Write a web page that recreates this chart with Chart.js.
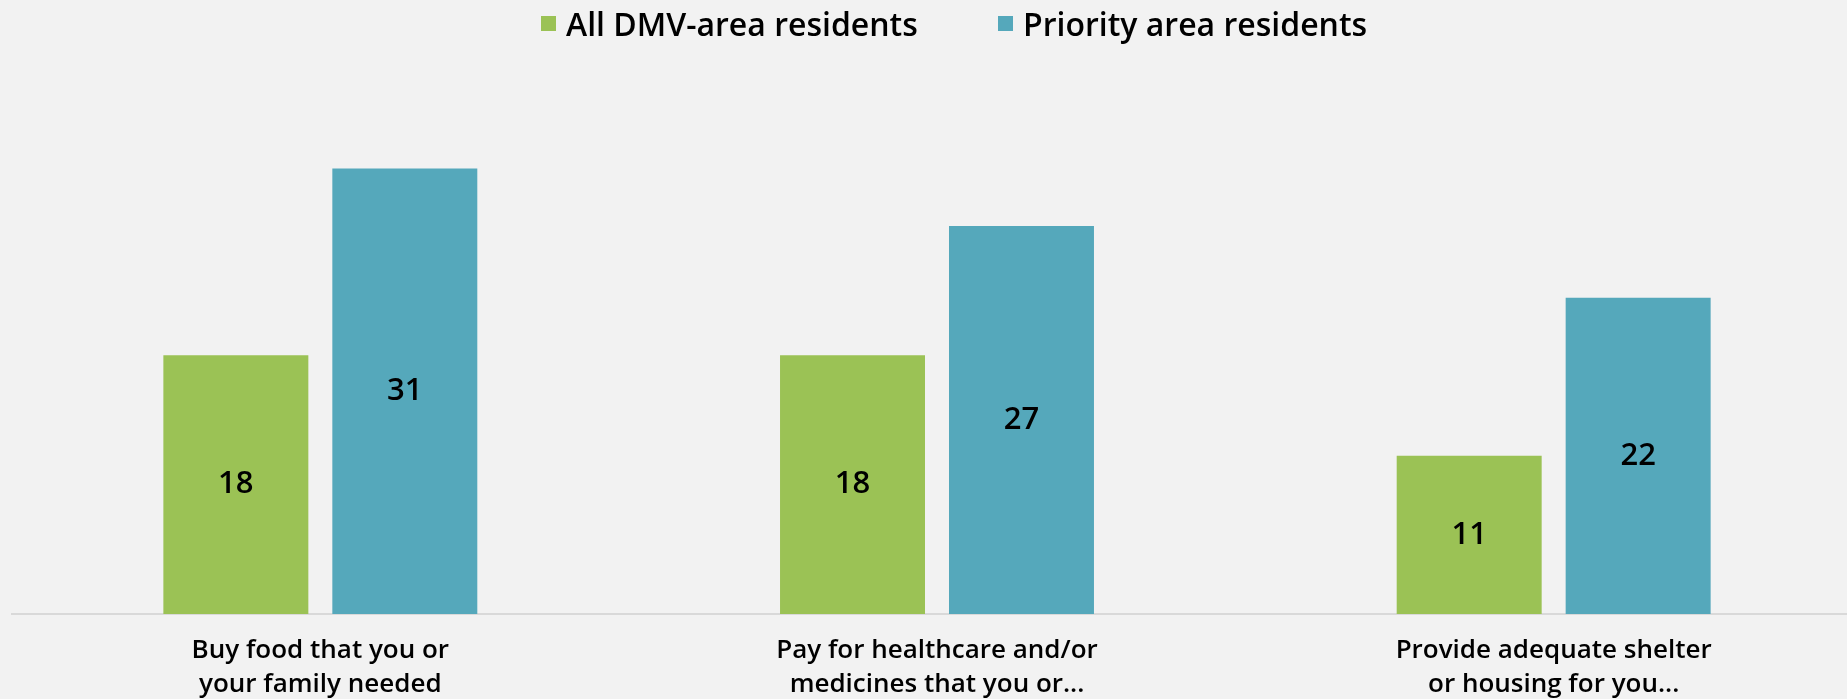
<!DOCTYPE html>
<html>
<head>
<meta charset="utf-8">
<script src="https://cdn.jsdelivr.net/npm/chart.js@4.4.1/dist/chart.umd.min.js"></script>
<style>
  html, body { margin: 0; padding: 0; background: #f2f2f2; overflow: hidden; }
  #wrap { position: relative; width: 1862px; height: 699px; }
  #legend { position: absolute; left: 541px; top: 2px; display: flex; align-items: center;
            font-family: "Open Sans", sans-serif; font-size: 32px; font-weight: 600; color: #000; }
  #legend .item { display: flex; align-items: center; }
  #legend .item:first-child { width: 457px; }
  #legend .box { width: 15px; height: 15px; margin-right: 10px; flex: none; }
</style>
</head>
<body>
<div id="wrap">
  <canvas id="chart"></canvas>
  <div id="legend"></div>
</div>
<script>
// categories and series
const categories = [
  ["Buy food that you or", "your family needed"],
  ["Pay for healthcare and/or", "medicines that you or..."],
  ["Provide adequate shelter", "or housing for you..."]
];
const seriesNames = ["All DMV-area residents", "Priority area residents"];
const allResidents = [18, 18, 11];
const priorityResidents = [31, 27, 22];
const colors = ["#9bc255", "#55a8bb"];

// draw the value in the middle of each bar
const barValues = {
  id: 'barValues',
  afterDatasetsDraw(chart) {
    const ctx = chart.ctx;
    ctx.save();
    ctx.font = '600 31px "Open Sans"';
    ctx.fillStyle = '#000';
    ctx.textAlign = 'center';
    ctx.textBaseline = 'middle';
    chart.data.datasets.forEach((ds, i) => {
      chart.getDatasetMeta(i).data.forEach((bar, j) => {
        ctx.fillText(ds.data[j], bar.x, (bar.y + bar.base) / 2);
      });
    });
    ctx.restore();
  }
};

let chart = new Chart(document.getElementById('chart'), {
  type: 'bar',
  data: {
    labels: categories,
    datasets: [
      { label: seriesNames[0], data: allResidents, backgroundColor: colors[0] },
      { label: seriesNames[1], data: priorityResidents, backgroundColor: colors[1] }
    ]
  },
  options: {
    responsive: true,
    maintainAspectRatio: false,
    animation: false,
    layout: { padding: { left: 12, right: 0, top: 111, bottom: -23 } },
    categoryPercentage: 0.548,
    barPercentage: 0.858,
    plugins: {
      legend: { display: false },
      tooltip: { enabled: false }
    },
    scales: {
      x: {
        grid: { display: false, drawTicks: false },
        border: { display: true, color: '#d9d9d9', width: 2 },
        ticks: {
          color: '#000',
          font: { family: 'Open Sans', size: 26, weight: 600, lineHeight: 1.31 },
          padding: 20,
          maxRotation: 0,
          autoSkip: false
        }
      },
      y: {
        display: false,
        min: 0,
        max: 35
      }
    }
  },
  plugins: [barValues]
});

// legend built from the datasets
const legendEl = document.getElementById('legend');
chart.data.datasets.forEach(ds => {
  const item = document.createElement('div');
  item.className = 'item';
  const box = document.createElement('span');
  box.className = 'box';
  box.style.background = ds.backgroundColor;
  const txt = document.createElement('span');
  txt.textContent = ds.label;
  item.appendChild(box);
  item.appendChild(txt);
  legendEl.appendChild(item);
});
</script>
</body>
</html>
